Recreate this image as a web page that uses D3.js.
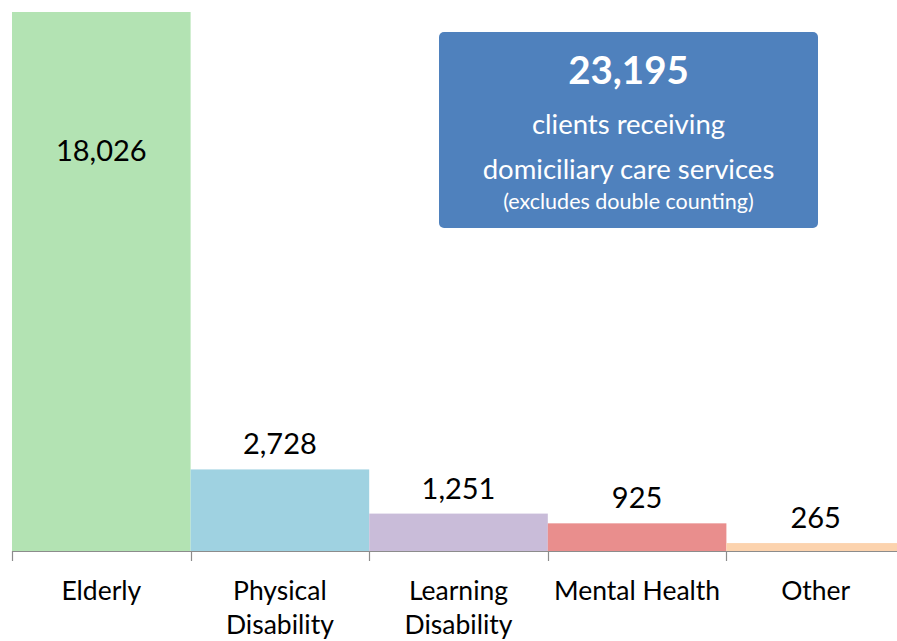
<!DOCTYPE html>
<html>
<head>
<meta charset="utf-8">
<script src="https://cdn.jsdelivr.net/npm/d3@7"></script>
<style>
  body { margin: 0; background: #fff; }
  text { font-family: Lato, "Open Sans", sans-serif; }
</style>
</head>
<body>
<svg id="canvas" width="897" height="641"></svg>
<script>
// data
const categories = ['Elderly', 'Physical\nDisability', 'Learning\nDisability', 'Mental Health', 'Other'];
const clients = [18026, 2728, 1251, 925, 265];
const barColors = ['#b3e3b3', '#9fd2e1', '#c9bcd9', '#e98e8d', '#fcd3ae'];
const totalClients = 23195;
const boxLines = ['clients receiving', 'domiciliary care services', '(excludes double counting)'];

const rows = categories.map((c, i) => ({ cat: c, value: clients[i], color: barColors[i] }));

const svg = d3.select('#canvas');

// scales
const x = d3.scaleBand().domain(categories).range([12, 905]).padding(0);
const y = d3.scaleLinear().domain([0, 18026]).range([551, 12]);
const fmt = d3.format(',');

// bars
svg.selectAll('rect.bar')
  .data(rows)
  .join('rect')
    .attr('class', 'bar')
    .attr('x', d => x(d.cat))
    .attr('y', d => y(d.value))
    .attr('width', x.bandwidth())
    .attr('height', d => y(0) - y(d.value))
    .attr('fill', d => d.color);

// baseline + ticks at band edges
const axis = svg.append('g').attr('stroke', '#8c8c8c').attr('stroke-width', 1.2);
axis.append('line')
  .attr('x1', 12).attr('x2', 905)
  .attr('y1', y(0) + 0.5).attr('y2', y(0) + 0.5);
const edges = categories.map(c => x(c));
axis.selectAll('line.tick')
  .data(edges)
  .join('line')
    .attr('class', 'tick')
    .attr('x1', d => Math.round(d) + 0.5).attr('x2', d => Math.round(d) + 0.5)
    .attr('y1', y(0)).attr('y2', y(0) + 10);

// value labels (first one sits inside the tall bar)
svg.selectAll('text.val')
  .data(rows)
  .join('text')
    .attr('class', 'val')
    .attr('x', d => x(d.cat) + x.bandwidth() / 2)
    .attr('y', (d, i) => i === 0 ? 161 : y(d.value) - 15)
    .attr('text-anchor', 'middle')
    .attr('font-size', 29)
    .attr('fill', '#000')
    .text(d => fmt(d.value));

// category labels
svg.selectAll('text.cat')
  .data(rows)
  .join('text')
    .attr('class', 'cat')
    .attr('x', d => x(d.cat) + x.bandwidth() / 2)
    .attr('y', 600)
    .attr('text-anchor', 'middle')
    .attr('font-size', 26.5)
    .attr('fill', '#000')
    .selectAll('tspan')
    .data(d => d.cat.split('\n'))
    .join('tspan')
      .attr('x', function () { return this.parentNode.getAttribute('x'); })
      .attr('dy', (d, i) => i === 0 ? 0 : 34)
      .text(d => d);

// callout box
const box = svg.append('g');
box.append('rect')
  .attr('x', 439).attr('y', 32)
  .attr('width', 379).attr('height', 196)
  .attr('rx', 5)
  .attr('fill', '#4f81bd');
const cx = 439 + 379 / 2;
box.append('text')
  .attr('x', cx).attr('y', 84)
  .attr('text-anchor', 'middle')
  .attr('font-size', 38.5).attr('font-weight', 'bold')
  .attr('fill', '#fff')
  .text(fmt(totalClients));
box.selectAll('text.line')
  .data(boxLines)
  .join('text')
    .attr('class', 'line')
    .attr('x', cx)
    .attr('y', (d, i) => [134, 179, 209][i])
    .attr('text-anchor', 'middle')
    .attr('font-size', (d, i) => i === 2 ? 21.5 : 27.5)
    .attr('fill', '#fff')
    .text(d => d);
</script>
</body>
</html>
